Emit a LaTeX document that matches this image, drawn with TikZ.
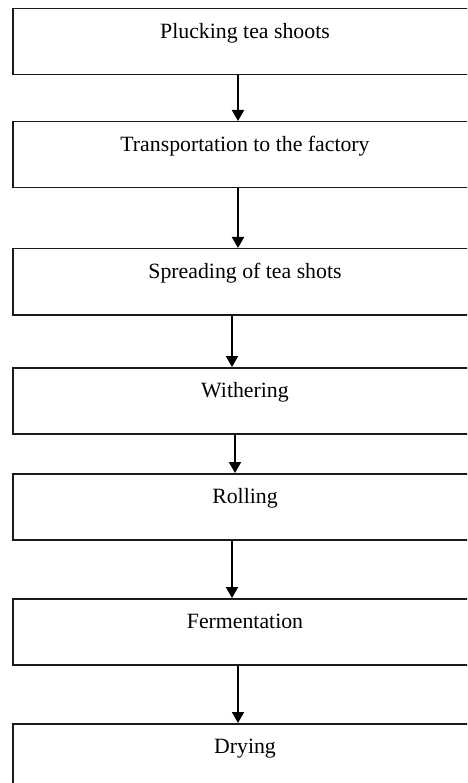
\documentclass[tikz,border=0pt]{standalone}
\usepackage{fontspec}
\setmainfont{Liberation Serif}
\usepackage{xcolor}
\usepackage{tikz}
\usetikzlibrary{positioning, arrows.meta}
\definecolor{bInk}{HTML}{1A1A1A}
\tikzset{
  stepbox/.style={draw=bInk, line width=1.5pt, anchor=north, minimum width=464pt,
    inner sep=0pt, text height=30pt, text depth=36pt, align=center,
    font=\fontsize{21.8}{25}\selectfont},
  flow/.style={-{Triangle[length=11pt,width=12pt]}, line width=1.9pt, black},
}

\begin{document}
\begin{tikzpicture}[x=1pt, y=1pt]
      \fill[white] (0,0) rectangle (467,-783);
      \useasboundingbox (0,0) rectangle (467,-783);
      \clip (0,0) rectangle (467,-783);
      \node[stepbox] (pluck) at (245,-8) {Plucking tea shoots};
      \node[stepbox] (transport) at (245,-121) {Transportation to the factory};
      \node[stepbox] (spread) at (245,-248) {Spreading of tea shots};
      \node[stepbox] (wither) at (245,-367) {Withering};
      \node[stepbox] (roll) at (245,-473) {Rolling};
      \node[stepbox] (ferment) at (245,-598) {Fermentation};
      \node[stepbox] (dry) at (245,-723) {Drying};
      \draw[flow] ([xshift=-7pt]pluck.south) -- ([xshift=-7pt]transport.north);
      \draw[flow] ([xshift=-7pt]transport.south) -- ([xshift=-7pt]spread.north);
      \draw[flow] ([xshift=-13pt]spread.south) -- ([xshift=-13pt]wither.north);
      \draw[flow] ([xshift=-10pt]wither.south) -- ([xshift=-10pt]roll.north);
      \draw[flow] ([xshift=-13pt]roll.south) -- ([xshift=-13pt]ferment.north);
      \draw[flow] ([xshift=-7pt]ferment.south) -- ([xshift=-7pt]dry.north);
    \end{tikzpicture}
\end{document}
